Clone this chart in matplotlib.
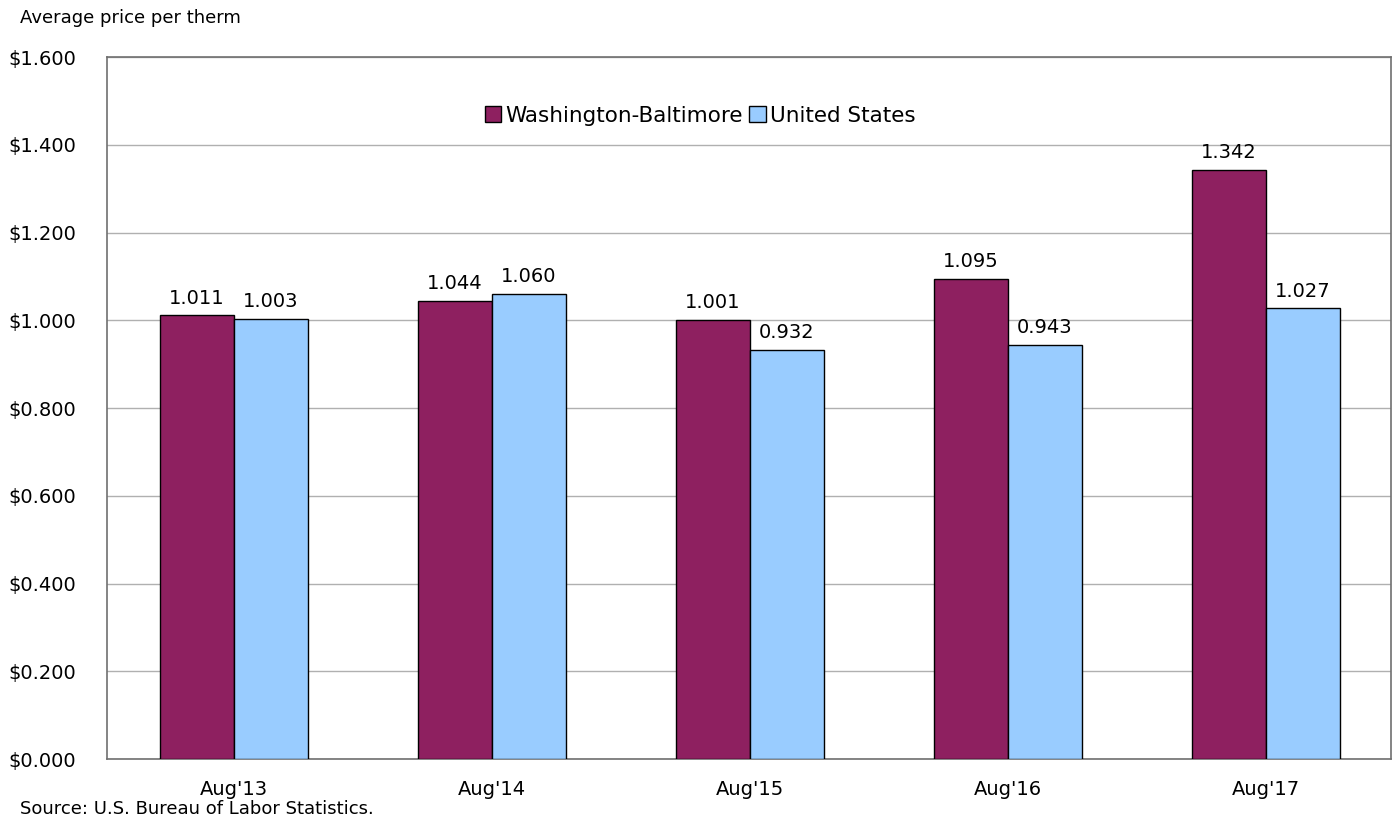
import matplotlib.pyplot as plt
import numpy as np

# average price per therm, utility gas
months = ["Aug'13", "Aug'14", "Aug'15", "Aug'16", "Aug'17"]
wash_balt = [1.011, 1.044, 1.001, 1.095, 1.342]
us_avg = [1.003, 1.060, 0.932, 0.943, 1.027]
yticks = [0.0, 0.2, 0.4, 0.6, 0.8, 1.0, 1.2, 1.4, 1.6]

plt.rcParams['font.family'] = ['DejaVu Sans']

fig = plt.figure(figsize=(13.97, 8.22), dpi=100)
ax = fig.add_axes([107/1397, 1 - 759/822, 1284/1397, 702/822])

x = np.arange(len(months))
w = 0.287
b1 = ax.bar(x - w/2, wash_balt, w, color='#8e2060', edgecolor='black', linewidth=1, label='Washington-Baltimore', zorder=3)
b2 = ax.bar(x + w/2, us_avg, w, color='#99ccff', edgecolor='black', linewidth=1, label='United States', zorder=3)

for bars, vals in [(b1, wash_balt), (b2, us_avg)]:
    for r, v in zip(bars, vals):
        ax.text(r.get_x() + r.get_width()/2, v + 0.018, '%.3f' % v,
                ha='center', va='bottom', fontsize=14)

ax.set_xlim(-0.492, 4.485)
ax.set_ylim(0, 1.6)
ax.set_yticks(yticks)
ax.set_yticklabels(['$%.3f' % t for t in yticks], fontsize=14)
ax.set_xticks(x)
ax.set_xticklabels(months, fontsize=14)
ax.tick_params(axis='y', length=0, pad=22)
ax.tick_params(axis='x', length=0, pad=15)
ax.yaxis.grid(True, color='#b0b0b0', linewidth=1, zorder=0)
ax.set_axisbelow(True)
for s in ax.spines.values():
    s.set_color('#707070')
    s.set_linewidth(1.2)

ax.legend(loc='upper center', bbox_to_anchor=(0.462, 0.958), ncol=2, frameon=False,
          fontsize=15.5, handlelength=0.75, handleheight=0.75, handletextpad=0.2,
          columnspacing=0.3)

fig.text(20/1397, 1 - 18/822, 'Average price per therm', fontsize=13, va='center', ha='left')
fig.text(20/1397, 1 - 809/822, 'Source: U.S. Bureau of Labor Statistics.', fontsize=13, va='center', ha='left')

fig.savefig('out.png', dpi=100)
